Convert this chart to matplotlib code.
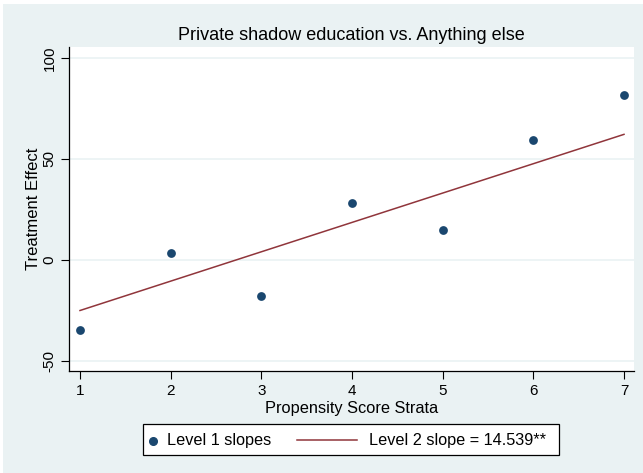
import matplotlib
matplotlib.use("Agg")
import matplotlib.pyplot as plt
from matplotlib.patches import Rectangle
from matplotlib.lines import Line2D

plt.rcParams['font.family'] = ['Liberation Sans', 'DejaVu Sans']

strata = [1, 2, 3, 4, 5, 6, 7]
level1_slopes = [-34.6, 3.4, -17.6, 28.0, 14.8, 59.2, 81.6]
fit_x = [1, 7]
fit_y = [-25.0, 62.2]
xticks = [1, 2, 3, 4, 5, 6, 7]
yticks = [-50, 0, 50, 100]
title = "Private shadow education vs. Anything else"
xlabel = "Propensity Score Strata"
ylabel = "Treatment Effect"
leg_labels = ["Level 1 slopes", "Level 2 slope = 14.539**"]

W, H = 643, 473
bg = '#EAF2F3'
navy = '#1A476F'
maroon = '#90353B'

fig = plt.figure(figsize=(W/100, H/100), dpi=100)
fig.patch.set_facecolor('white')
fig.patches.append(Rectangle((3/W, 0), 1 - 3/W, 1 - 4/H, transform=fig.transFigure,
                             facecolor=bg, edgecolor='none', zorder=-10))

def fx(px):
    return px / W

def fy(py):
    return 1 - py / H

left, right, top, bottom = 69, 634, 47, 371
ax = fig.add_axes([fx(left), fy(bottom), (right-left)/W, (bottom-top)/H])
ax.set_facecolor('white')

ax.set_xlim(1 - 11/90.67, 7 + 10/90.67)
ppu = (361 - 58) / 150
ax.set_ylim(-50 - (bottom - 361)/ppu, 100 + (58 - top)/ppu)

for yv in yticks:
    ax.axhline(yv, color=bg, lw=1.2, zorder=0)

ax.scatter(strata, level1_slopes, s=40, color=navy, zorder=3, linewidths=0)
ax.plot(fit_x, fit_y, color=maroon, lw=1.1, zorder=2)

ax.set_xticks(xticks)
ax.set_yticks(yticks)
ax.set_yticklabels([str(v) for v in yticks], rotation=90, va='center')
ax.tick_params(axis='both', labelsize=11, length=6, width=0.8, color='black', pad=3)
for s in ['top', 'right']:
    ax.spines[s].set_visible(False)
for s in ['left', 'bottom']:
    ax.spines[s].set_linewidth(0.9)
    ax.spines[s].set_color('black')

fig.text(fx((left+right)/2), fy(35), title, ha='center', va='center', fontsize=13)
fig.text(fx(352), fy(408), xlabel, ha='center', va='center', fontsize=11.8)
fig.text(fx(33), fy(209), ylabel, ha='center', va='center', rotation=90, fontsize=12)

# legend box (manual, Stata-style)
lx0, lx1, ly0, ly1 = 143, 559, 424, 455
fig.patches.append(Rectangle((fx(lx0), fy(ly1)), (lx1-lx0)/W, (ly1-ly0)/H,
                             transform=fig.transFigure, facecolor='white',
                             edgecolor='black', lw=0.9))
ly = (ly0 + ly1) / 2
fig.add_artist(Line2D([fx(153)], [fy(ly + 1)], marker='o', color=navy, ls='none',
                      markersize=5.5, transform=fig.transFigure))
fig.text(fx(167), fy(ly + 1), leg_labels[0], ha='left', va='center', fontsize=11.7)
fig.add_artist(Line2D([fx(297), fx(357)], [fy(ly), fy(ly)], color=maroon, lw=1.1,
                      transform=fig.transFigure))
fig.text(fx(369), fy(ly + 1), leg_labels[1], ha='left', va='center', fontsize=11.7)

fig.savefig('out.png', dpi=100, facecolor=fig.get_facecolor())
